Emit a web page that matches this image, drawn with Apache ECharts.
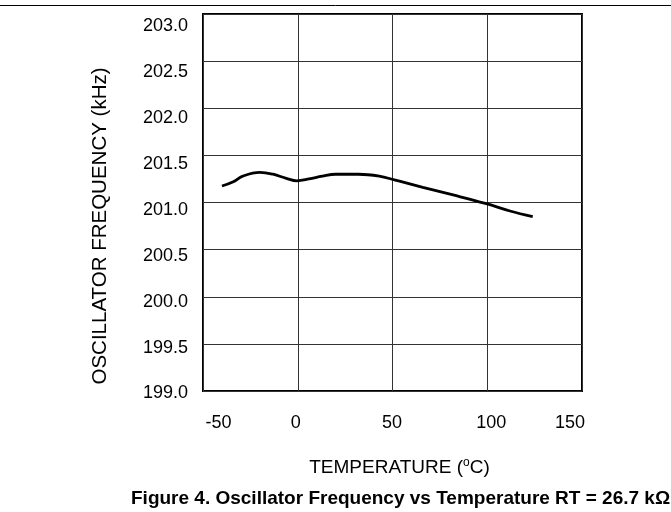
<!DOCTYPE html>
<html>
<head>
<meta charset="utf-8">
<script src="https://cdn.jsdelivr.net/npm/echarts@6/dist/echarts.min.js"></script>
<style>
html,body{margin:0;padding:0;background:#fff;}
#chart{width:671px;height:512px;}
</style>
</head>
<body>
<div id="chart"></div>
<script>
// Data
const temperatures = [-40, -34, -29, -20, -13, -6, -0.4, 6, 13, 20, 32, 43, 51, 66, 82, 99, 112, 124];
const frequencies = [201.175, 201.22, 201.28, 201.32, 201.30, 201.256, 201.23, 201.25, 201.28, 201.30, 201.30, 201.28, 201.24, 201.16, 201.08, 200.99, 200.91, 200.85];
const xTickLabels = [-50, 0, 50, 100, 150];
const yTickLabels = ['199.0', '199.5', '200.0', '200.5', '201.0', '201.5', '202.0', '202.5', '203.0'];
const xTitle = 'TEMPERATURE (°C)';
const yTitle = 'OSCILLATOR FREQUENCY (kHz)';
const caption = 'Figure 4. Oscillator Frequency vs Temperature RT = 26.7 kΩ';

const FONT = '"Liberation Sans", Arial, Helvetica, sans-serif';
const chart = echarts.init(document.getElementById('chart'), null, {renderer: 'canvas'});

const seriesData = temperatures.map((t, i) => [t, frequencies[i]]);
const xRich = {
  t0: {fontSize: 18, fontFamily: FONT, color: '#000', padding: [0, 0, 0, 31]},
  t1: {fontSize: 18, fontFamily: FONT, color: '#000', padding: [0, 4, 0, 0]},
  t2: {fontSize: 18, fontFamily: FONT, color: '#000', padding: [0, 1, 0, 0]},
  t3: {fontSize: 18, fontFamily: FONT, color: '#000', padding: [0, 0, 0, 8]},
  t4: {fontSize: 18, fontFamily: FONT, color: '#000', padding: [0, 24, 0, 0]}
};

const option = {
  backgroundColor: '#fff',
  animation: false,
  textStyle: {fontFamily: FONT},
  title: {
    text: caption,
    left: 131,
    top: 489,
    padding: 0,
    textStyle: {fontSize: 19, fontWeight: 'bold', color: '#000', fontFamily: FONT}
  },
  graphic: [{
    type: 'line',
    shape: {x1: 0, y1: 5.5, x2: 671, y2: 5.5},
    style: {stroke: '#000', lineWidth: 1}
  }],
  grid: [
    {left: 203, top: 14, width: 379, height: 377, show: true, borderColor: '#000', borderWidth: 2, backgroundColor: 'transparent'},
    {left: 203, top: 26, width: 379, height: 367.5}
  ],
  xAxis: [
    {
      gridIndex: 0, type: 'value', min: -50, max: 150, interval: 50,
      axisLine: {show: false}, axisTick: {show: false},
      splitLine: {show: true, lineStyle: {color: '#333', width: 1}},
      axisLabel: {
        margin: 23, fontSize: 18, color: '#000', fontFamily: FONT,
        formatter: v => {
          const i = xTickLabels.indexOf(v);
          return i < 0 ? '' : '{t' + i + '|' + xTickLabels[i] + '}';
        },
        rich: xRich
      },
      name: 'TEMPERATURE ({sup|o}C)',
      nameLocation: 'middle', nameGap: 66,
      nameTextStyle: {
        fontSize: 19, color: '#000', fontFamily: FONT, padding: [0, 0, 0, 14],
        rich: {sup: {fontSize: 12, color: '#000', fontFamily: FONT, padding: [0, 0, 9, 0]}}
      }
    },
    {gridIndex: 1, type: 'value', min: -50, max: 150, show: false}
  ],
  yAxis: [
    {
      gridIndex: 0, type: 'value', min: 199, max: 203, interval: 0.5,
      axisLine: {show: false}, axisTick: {show: false}, axisLabel: {show: false},
      splitLine: {show: true, lineStyle: {color: '#333', width: 1}},
      name: yTitle, nameLocation: 'middle', nameGap: 92,
      nameTextStyle: {fontSize: 20.5, color: '#000', fontFamily: FONT, padding: [0, 47, 0, 0]}
    },
    {
      gridIndex: 1, type: 'value', min: 199, max: 203, interval: 0.5,
      axisLine: {show: false}, axisTick: {show: false}, splitLine: {show: false},
      axisLabel: {
        margin: 15, fontSize: 18, color: '#000', fontFamily: FONT,
        formatter: v => {
          const s = v.toFixed(1);
          return yTickLabels.indexOf(s) >= 0 ? s : '';
        }
      }
    }
  ],
  series: [{
    type: 'line',
    xAxisIndex: 0, yAxisIndex: 0,
    data: seriesData,
    smooth: 0.4,
    symbol: 'none',
    lineStyle: {color: '#000', width: 2.8},
    z: 5
  }]
};
chart.setOption(option);
</script>
</body>
</html>
